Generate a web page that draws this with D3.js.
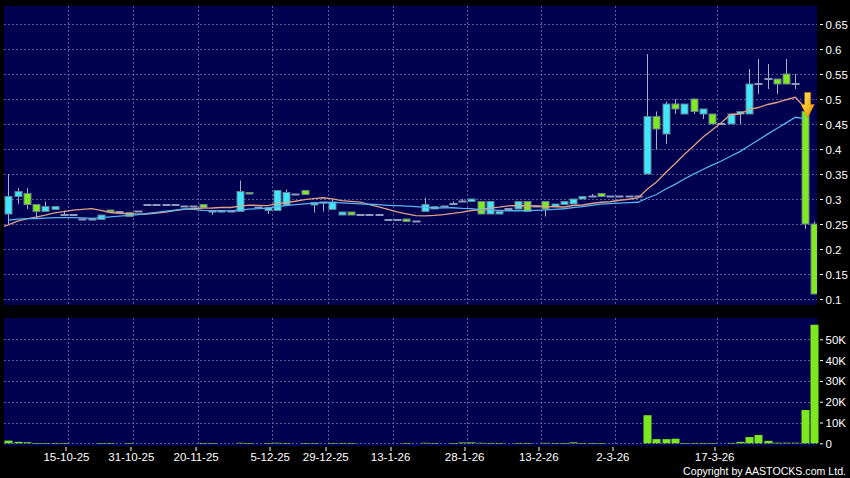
<!DOCTYPE html>
<html><head><meta charset="utf-8">
<script src="https://cdn.jsdelivr.net/npm/d3@7"></script>
<style>html,body{margin:0;padding:0;background:#000;}svg{display:block;}</style>
</head><body>
<svg id="c" width="850" height="478"></svg>
<script>
// ---- data ----
const opens  = [0.27,0.305,0.311,0.289,0.275,0.279,0.268,0.268,0.259,0.259,0.259,0.278,0.274,0.273,0.275,0.288,0.288,0.288,0.288,0.285,0.285,0.289,0.275,0.275,0.275,0.275,0.313,0.283,0.277,0.277,0.288,0.309,0.317,0.288,0.293,0.279,0.268,0.274,0.268,0.268,0.268,0.258,0.258,0.26,0.255,0.275,0.28,0.285,0.29,0.295,0.295,0.295,0.27,0.27,0.28,0.28,0.295,0.285,0.295,0.285,0.289,0.29,0.30,0.305,0.311,0.305,0.305,0.305,0.305,0.35,0.465,0.43,0.49,0.47,0.50,0.47,0.47,0.45,0.45,0.47,0.47,0.53,0.54,0.54,0.55,0.53,0.475,0.25];
const highs  = [0.35,0.322,0.322,0.289,0.295,0.285,0.277,0.268,0.259,0.259,0.268,0.278,0.274,0.273,0.275,0.288,0.288,0.288,0.288,0.285,0.285,0.289,0.275,0.275,0.275,0.337,0.313,0.283,0.283,0.317,0.319,0.309,0.317,0.293,0.293,0.30,0.274,0.274,0.268,0.268,0.268,0.258,0.258,0.26,0.255,0.302,0.285,0.285,0.295,0.30,0.30,0.295,0.295,0.275,0.28,0.295,0.295,0.285,0.295,0.29,0.295,0.30,0.305,0.31,0.311,0.305,0.305,0.305,0.305,0.59,0.475,0.495,0.50,0.49,0.50,0.48,0.47,0.45,0.47,0.475,0.56,0.58,0.57,0.54,0.58,0.55,0.475,0.255];
const lows   = [0.25,0.29,0.28,0.26,0.275,0.279,0.268,0.268,0.259,0.259,0.259,0.274,0.274,0.265,0.275,0.288,0.288,0.288,0.288,0.285,0.285,0.283,0.268,0.275,0.275,0.275,0.31,0.283,0.27,0.277,0.288,0.309,0.309,0.273,0.275,0.279,0.268,0.268,0.268,0.268,0.268,0.258,0.258,0.255,0.255,0.275,0.28,0.285,0.29,0.295,0.295,0.27,0.27,0.27,0.28,0.28,0.275,0.285,0.265,0.285,0.289,0.29,0.30,0.305,0.305,0.305,0.305,0.305,0.305,0.35,0.40,0.41,0.47,0.47,0.47,0.46,0.45,0.45,0.45,0.45,0.47,0.51,0.52,0.51,0.53,0.52,0.24,0.11];
const closes = [0.305,0.315,0.289,0.275,0.285,0.285,0.268,0.268,0.259,0.259,0.268,0.274,0.274,0.265,0.275,0.288,0.288,0.288,0.288,0.285,0.285,0.283,0.275,0.275,0.275,0.315,0.31,0.283,0.283,0.317,0.313,0.309,0.309,0.293,0.293,0.294,0.274,0.268,0.268,0.268,0.268,0.258,0.258,0.255,0.255,0.289,0.285,0.285,0.29,0.295,0.30,0.27,0.295,0.275,0.28,0.295,0.275,0.285,0.28,0.29,0.295,0.30,0.305,0.305,0.305,0.305,0.305,0.305,0.305,0.465,0.44,0.49,0.48,0.49,0.475,0.48,0.45,0.45,0.47,0.475,0.53,0.53,0.54,0.53,0.53,0.53,0.25,0.11];
const volumes = [1300,700,500,150,150,100,50,0,0,0,100,100,0,100,0,0,0,0,0,0,0,150,100,0,0,250,100,0,150,250,150,0,100,100,0,150,100,100,0,0,0,0,0,100,0,250,100,0,50,400,450,250,150,100,0,150,150,0,200,100,100,450,100,50,100,0,0,0,0,13500,2000,2000,2200,100,100,100,100,0,200,700,3000,4000,1200,300,300,300,16000,57000];
// closes before the first visible day (used for the moving averages)
const priorCloses = [0.275,0.27,0.268,0.27,0.265,0.27,0.268,0.27,0.272,0.245,0.24,0.242,0.24,0.245,0.24,0.242,0.24,0.245,0.242];
const maPeriods = [10, 20];
const maColors = ["#e0a084", "#58b4f0"];
const maLastIndex = 86;
const tickIndex = [7,14,21,29,35,42,50,58,66,77];
const tickLabels = ["15-10-25","31-10-25","20-11-25","5-12-25","29-12-25","13-1-26","28-1-26","13-2-26","2-3-26","17-3-26"];
const priceTicks = [0.1,0.15,0.2,0.25,0.3,0.35,0.4,0.45,0.5,0.55,0.6,0.65];
const volTicks = [0,10000,20000,30000,40000,50000];
const volTickLabels = ["0","10K","20K","30K","40K","50K"];
const signalIndex = 86;

// ---- layout ----
const svg = d3.select("#c");
const P = {l:4, r:817, t:6, b:305};
const V = {t:318, b:446};
const n = closes.length;
const x = d3.scaleLinear().domain([0, n-1]).range([8.3, 8.3 + 9.26*(n-1)]);
const y = d3.scaleLinear().domain([0.1, 0.65]).range([299, 24]);
const yv = d3.scaleLinear().domain([0, 50000]).range([443.3, 339.3]);
const font = "'Liberation Sans', Arial, sans-serif";
const gridCol = "#5c5c94";

svg.append("rect").attr("width",850).attr("height",478).attr("fill","#000");
svg.append("rect").attr("x",P.l).attr("y",P.t).attr("width",P.r-P.l).attr("height",P.b-P.t).attr("fill","#000050");
svg.append("rect").attr("x",P.l).attr("y",V.t).attr("width",P.r-P.l).attr("height",V.b-V.t).attr("fill","#000050");

const defs = svg.append("defs");
defs.append("clipPath").attr("id","clipP").append("rect").attr("x",P.l).attr("y",P.t).attr("width",P.r-P.l).attr("height",P.b-P.t);
const grad = defs.append("linearGradient").attr("id","arrowG").attr("x1","0").attr("y1","0").attr("x2","1").attr("y2","1");
grad.append("stop").attr("offset","0").attr("stop-color","#ffe870");
grad.append("stop").attr("offset","0.55").attr("stop-color","#f6bc22");
grad.append("stop").attr("offset","1").attr("stop-color","#d98000");

// grids
const gx = d => x(d - 0.5);
svg.append("g").selectAll("line").data(priceTicks).join("line")
  .attr("x1",P.l).attr("x2",P.r).attr("y1",d=>y(d)+0.5).attr("y2",d=>y(d)+0.5)
  .attr("stroke",gridCol).attr("stroke-dasharray","2,2").attr("stroke-width",1);
svg.append("g").selectAll("line").data(volTicks).join("line")
  .attr("x1",P.l).attr("x2",P.r).attr("y1",d=>Math.round(yv(d))+0.5).attr("y2",d=>Math.round(yv(d))+0.5)
  .attr("stroke",gridCol).attr("stroke-dasharray","2,2").attr("stroke-width",1);
[[P.t,P.b],[V.t,V.b]].forEach(([a,b])=>{
  svg.append("g").selectAll("line").data(tickIndex).join("line")
    .attr("x1",d=>Math.round(gx(d))+0.5).attr("x2",d=>Math.round(gx(d))+0.5).attr("y1",a).attr("y2",b)
    .attr("stroke",gridCol).attr("stroke-dasharray","2,2").attr("stroke-width",1);
});

// candles
const up = i => closes[i] > opens[i];
const idx = d3.range(n);
const cg = svg.append("g").attr("clip-path","url(#clipP)");
cg.selectAll("line.w").data(idx).join("line").attr("class","w")
  .attr("x1",i=>Math.round(x(i))+0.5).attr("x2",i=>Math.round(x(i))+0.5)
  .attr("y1",i=>y(highs[i])).attr("y2",i=>y(lows[i]))
  .attr("stroke","#a8b0c4").attr("stroke-width",1);
const bw = 7;
cg.selectAll("rect.b").data(idx.filter(i=>opens[i]!==closes[i])).join("rect").attr("class","b")
  .attr("x",i=>Math.round(x(i))-bw/2+0.5).attr("width",bw)
  .attr("y",i=>y(Math.max(opens[i],closes[i]))).attr("height",i=>Math.max(1.5,Math.abs(y(opens[i])-y(closes[i]))))
  .attr("fill",i=>up(i)?"#3ee8fa":"#80ea1e").attr("stroke","#6a7f92").attr("stroke-width",1);
cg.selectAll("rect.d").data(idx.filter(i=>opens[i]===closes[i])).join("rect").attr("class","d")
  .attr("x",i=>Math.round(x(i))-bw/2).attr("width",bw+1)
  .attr("y",i=>y(closes[i])-1).attr("height",2)
  .attr("fill","#8c9cbc");

// moving averages
const all = priorCloses.concat(closes.slice(0, maLastIndex+1));
const off = priorCloses.length;
maPeriods.forEach((p,k)=>{
  const pts = [];
  for (let j = p-1; j < all.length; j++) {
    const i = j - off;
    if (i < -1) continue;
    pts.push([i, d3.mean(all.slice(j-p+1, j+1))]);
  }
  cg.append("path").datum(pts)
    .attr("d", d3.line().x(d=>x(d[0])).y(d=>y(d[1])))
    .attr("fill","none").attr("stroke",maColors[k]).attr("stroke-width",1.3);
});

// signal arrow
const ax = x(signalIndex) + 3, ay = y(opens[signalIndex]) + 6;
svg.append("path")
  .attr("d", `M${ax-3},${ay-25} L${ax+3},${ay-25} L${ax+3},${ay-13} L${ax+6.7},${ay-13} L${ax},${ay} L${ax-6.7},${ay-13} L${ax-3},${ay-13} Z`)
  .attr("fill","url(#arrowG)").attr("stroke","#c87800").attr("stroke-width",0.6);

// volume bars
svg.append("g").selectAll("rect").data(idx.filter(i=>volumes[i]>0)).join("rect")
  .attr("x",i=>Math.round(x(i))-3.5).attr("width",8)
  .attr("y",i=>yv(volumes[i])).attr("height",i=>Math.max(0.6, yv(0)-yv(volumes[i])))
  .attr("fill","#7ee81e");

// right axis labels
const tc = "#ffffff";
const pa = svg.append("g");
pa.selectAll("line").data(priceTicks).join("line")
  .attr("x1",820).attr("x2",823).attr("y1",d=>y(d)+0.5).attr("y2",d=>y(d)+0.5).attr("stroke",tc);
pa.selectAll("text").data(priceTicks).join("text")
  .attr("x",825.5).attr("y",d=>y(d)+4.5).text(d=>String(+d.toFixed(2)))
  .attr("fill",tc).attr("font-family",font).attr("font-size","11.5px");
const va = svg.append("g");
va.selectAll("line").data(volTicks).join("line")
  .attr("x1",820).attr("x2",823).attr("y1",d=>yv(d)+0.5).attr("y2",d=>yv(d)+0.5).attr("stroke",tc);
va.selectAll("text").data(volTicks).join("text")
  .attr("x",825.5).attr("y",d=>yv(d)+4.5).text((d,i)=>volTickLabels[i])
  .attr("fill",tc).attr("font-family",font).attr("font-size","11.5px");

// x axis
const xa = svg.append("g");
xa.selectAll("line").data(tickIndex).join("line")
  .attr("x1",d=>Math.round(gx(d))-2).attr("x2",d=>Math.round(gx(d))-2).attr("y1",447).attr("y2",451).attr("stroke",tc);
xa.selectAll("text").data(tickIndex).join("text")
  .attr("x",d=>gx(d)-2).attr("y",461).attr("text-anchor","middle").text((d,i)=>tickLabels[i])
  .attr("fill",tc).attr("font-family",font).attr("font-size","11.5px");

svg.append("text").attr("x",846).attr("y",474.5).attr("text-anchor","end")
  .text("Copyright by AASTOCKS.com Ltd.").attr("fill",tc).attr("font-family",font).attr("font-size","10.6px");
</script>
</body></html>
